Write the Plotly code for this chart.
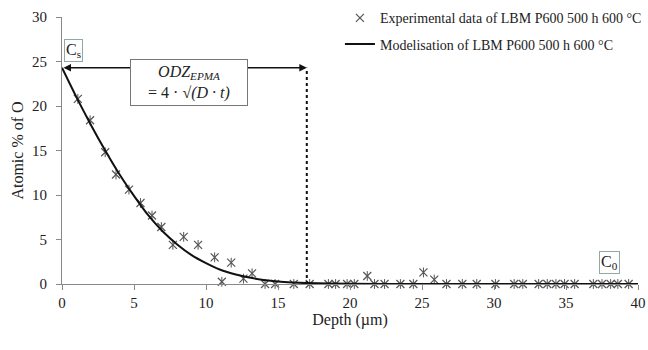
import plotly.graph_objects as go

# ---------------- data ----------------
exp_depth = [1.1, 1.95, 3.0, 3.75, 4.65, 5.45, 6.25, 6.9, 7.7, 8.45, 9.45, 10.6,
             11.1, 11.75, 12.6, 13.2, 14.1, 14.8, 16.1, 17.2, 18.5, 19.0, 19.8,
             20.3, 21.2, 21.7, 22.4, 23.5, 24.4, 25.1, 25.85, 26.7, 27.8, 28.8,
             30.1, 31.4, 32.0, 33.1, 33.7, 34.3, 34.9, 35.6, 36.9, 37.5, 38.1,
             38.6, 39.35]
exp_o = [20.8, 18.4, 14.8, 12.3, 10.6, 9.1, 7.7, 6.4, 4.4, 5.3, 4.4, 3.0,
         0.25, 2.4, 0.6, 1.2, 0.0, 0.0, 0.0, 0.0, 0.0, 0.0, 0.0,
         0.0, 0.9, 0.0, 0.0, 0.0, 0.0, 1.3, 0.5, 0.0, 0.0, 0.0,
         0.0, 0.0, 0.0, 0.0, 0.0, 0.0, 0.0, 0.0, 0.0, 0.0, 0.0,
         0.0, 0.0]

model_depth = [0, 1, 2, 3, 4, 5, 6, 7, 8, 9, 10, 11, 12, 13, 14, 15, 16, 17, 20, 25, 40]
model_o = [24.3, 21.0, 17.9, 15.0, 12.3, 9.9, 7.7, 5.9, 4.45, 3.25, 2.35, 1.6,
           1.1, 0.72, 0.46, 0.28, 0.17, 0.1, 0.02, 0.0, 0.0]

x_ticks = [0, 5, 10, 15, 20, 25, 30, 35, 40]
y_ticks = [0, 5, 10, 15, 20, 25, 30]

CS = 24.3      # surface concentration
ODZ = 17.0     # oxygen diffusion zone depth
exp_name = "Experimental data of LBM P600 500 h 600 °C"
model_name = "Modelisation of LBM P600 500 h 600 °C"

SERIF = "Liberation Serif"

fig = go.Figure()

fig.add_trace(go.Scatter(
    x=exp_depth, y=exp_o, mode="markers", name=exp_name,
    legendgroup="a",
    marker=dict(symbol="x-thin-open", size=8, color="#555555",
                line=dict(width=1.2, color="#555555")),
    cliponaxis=False,
))
fig.add_trace(go.Scatter(
    x=exp_depth, y=exp_o, mode="markers", showlegend=False,
    marker=dict(symbol="line-ns-open", size=7, color="#555555",
                line=dict(width=1.0, color="#555555")),
    cliponaxis=False, hoverinfo="skip",
))
fig.add_trace(go.Scatter(
    x=model_depth, y=model_o, mode="lines", name=model_name,
    legendgroup="b",
    line=dict(color="#111111", width=2, shape="spline", smoothing=0.6),
    cliponaxis=False,
))

# dotted vertical line at ODZ
fig.add_shape(type="line", x0=ODZ, x1=ODZ, y0=0, y1=CS, xref="x", yref="y",
              line=dict(color="#111111", width=2, dash="dot"))

annotations = [
    # double arrow from surface to ODZ
    dict(x=ODZ, y=CS, ax=0, ay=CS, xref="x", yref="y", axref="x", ayref="y",
         text="", showarrow=True, arrowhead=2, startarrowhead=2,
         arrowside="end+start", arrowsize=1, arrowwidth=1.5, arrowcolor="#111111"),
    dict(x=8.8, y=22.6, xref="x", yref="y", showarrow=False,
         text="<i>ODZ</i><sub><i>EPMA</i></sub><br>= 4 · √<i>(D · t)</i>",
         font=dict(family=SERIF, size=16, color="#222222"),
         bgcolor="white", bordercolor="#777777", borderwidth=1, borderpad=3,
         width=110),
    dict(x=0.15, y=26.2, xref="x", yref="y", xanchor="left", showarrow=False,
         text="C<sub>s</sub>", font=dict(family=SERIF, size=16, color="#222222"),
         bgcolor="white", bordercolor="#8fa9a9", borderwidth=1, borderpad=1),
    dict(x=38.0, y=2.4, xref="x", yref="y", showarrow=False,
         text="C<sub>0</sub>", font=dict(family=SERIF, size=16, color="#222222"),
         bgcolor="white", bordercolor="#8fa9a9", borderwidth=1, borderpad=1),
]

fig.update_layout(
    width=648, height=350,
    margin=dict(l=62, r=10, t=17, b=66, autoexpand=False),
    paper_bgcolor="white", plot_bgcolor="white",
    font=dict(family=SERIF, size=15, color="#222222"),
    showlegend=True,
    legend=dict(x=1.0155, y=1.055, xanchor="right", yanchor="top",
                bgcolor="rgba(0,0,0,0)", font=dict(family=SERIF, size=14, color="#222222"),
                itemwidth=30, tracegroupgap=5, traceorder="grouped"),
    annotations=annotations,
    xaxis=dict(range=[0, 40], tickvals=x_ticks, showgrid=False, zeroline=False,
               showline=True, linecolor="#888888", linewidth=1,
               ticks="outside", ticklen=5, tickcolor="#888888", automargin=False,
               tickfont=dict(family=SERIF, size=15, color="#222222"),
               title=dict(text="Depth (µm)", font=dict(family=SERIF, size=16, color="#222222"),
                          standoff=0)),
    yaxis=dict(range=[0, 30], tickvals=y_ticks, showgrid=False, zeroline=False,
               showline=True, linecolor="#888888", linewidth=1,
               ticks="outside", ticklen=5, tickcolor="#888888", automargin=False,
               ticklabelstandoff=6,
               tickfont=dict(family=SERIF, size=15, color="#222222"),
               title=dict(text="Atomic % of O", font=dict(family=SERIF, size=16, color="#222222"),
                          standoff=4)),
)

fig.write_html("out.html")
